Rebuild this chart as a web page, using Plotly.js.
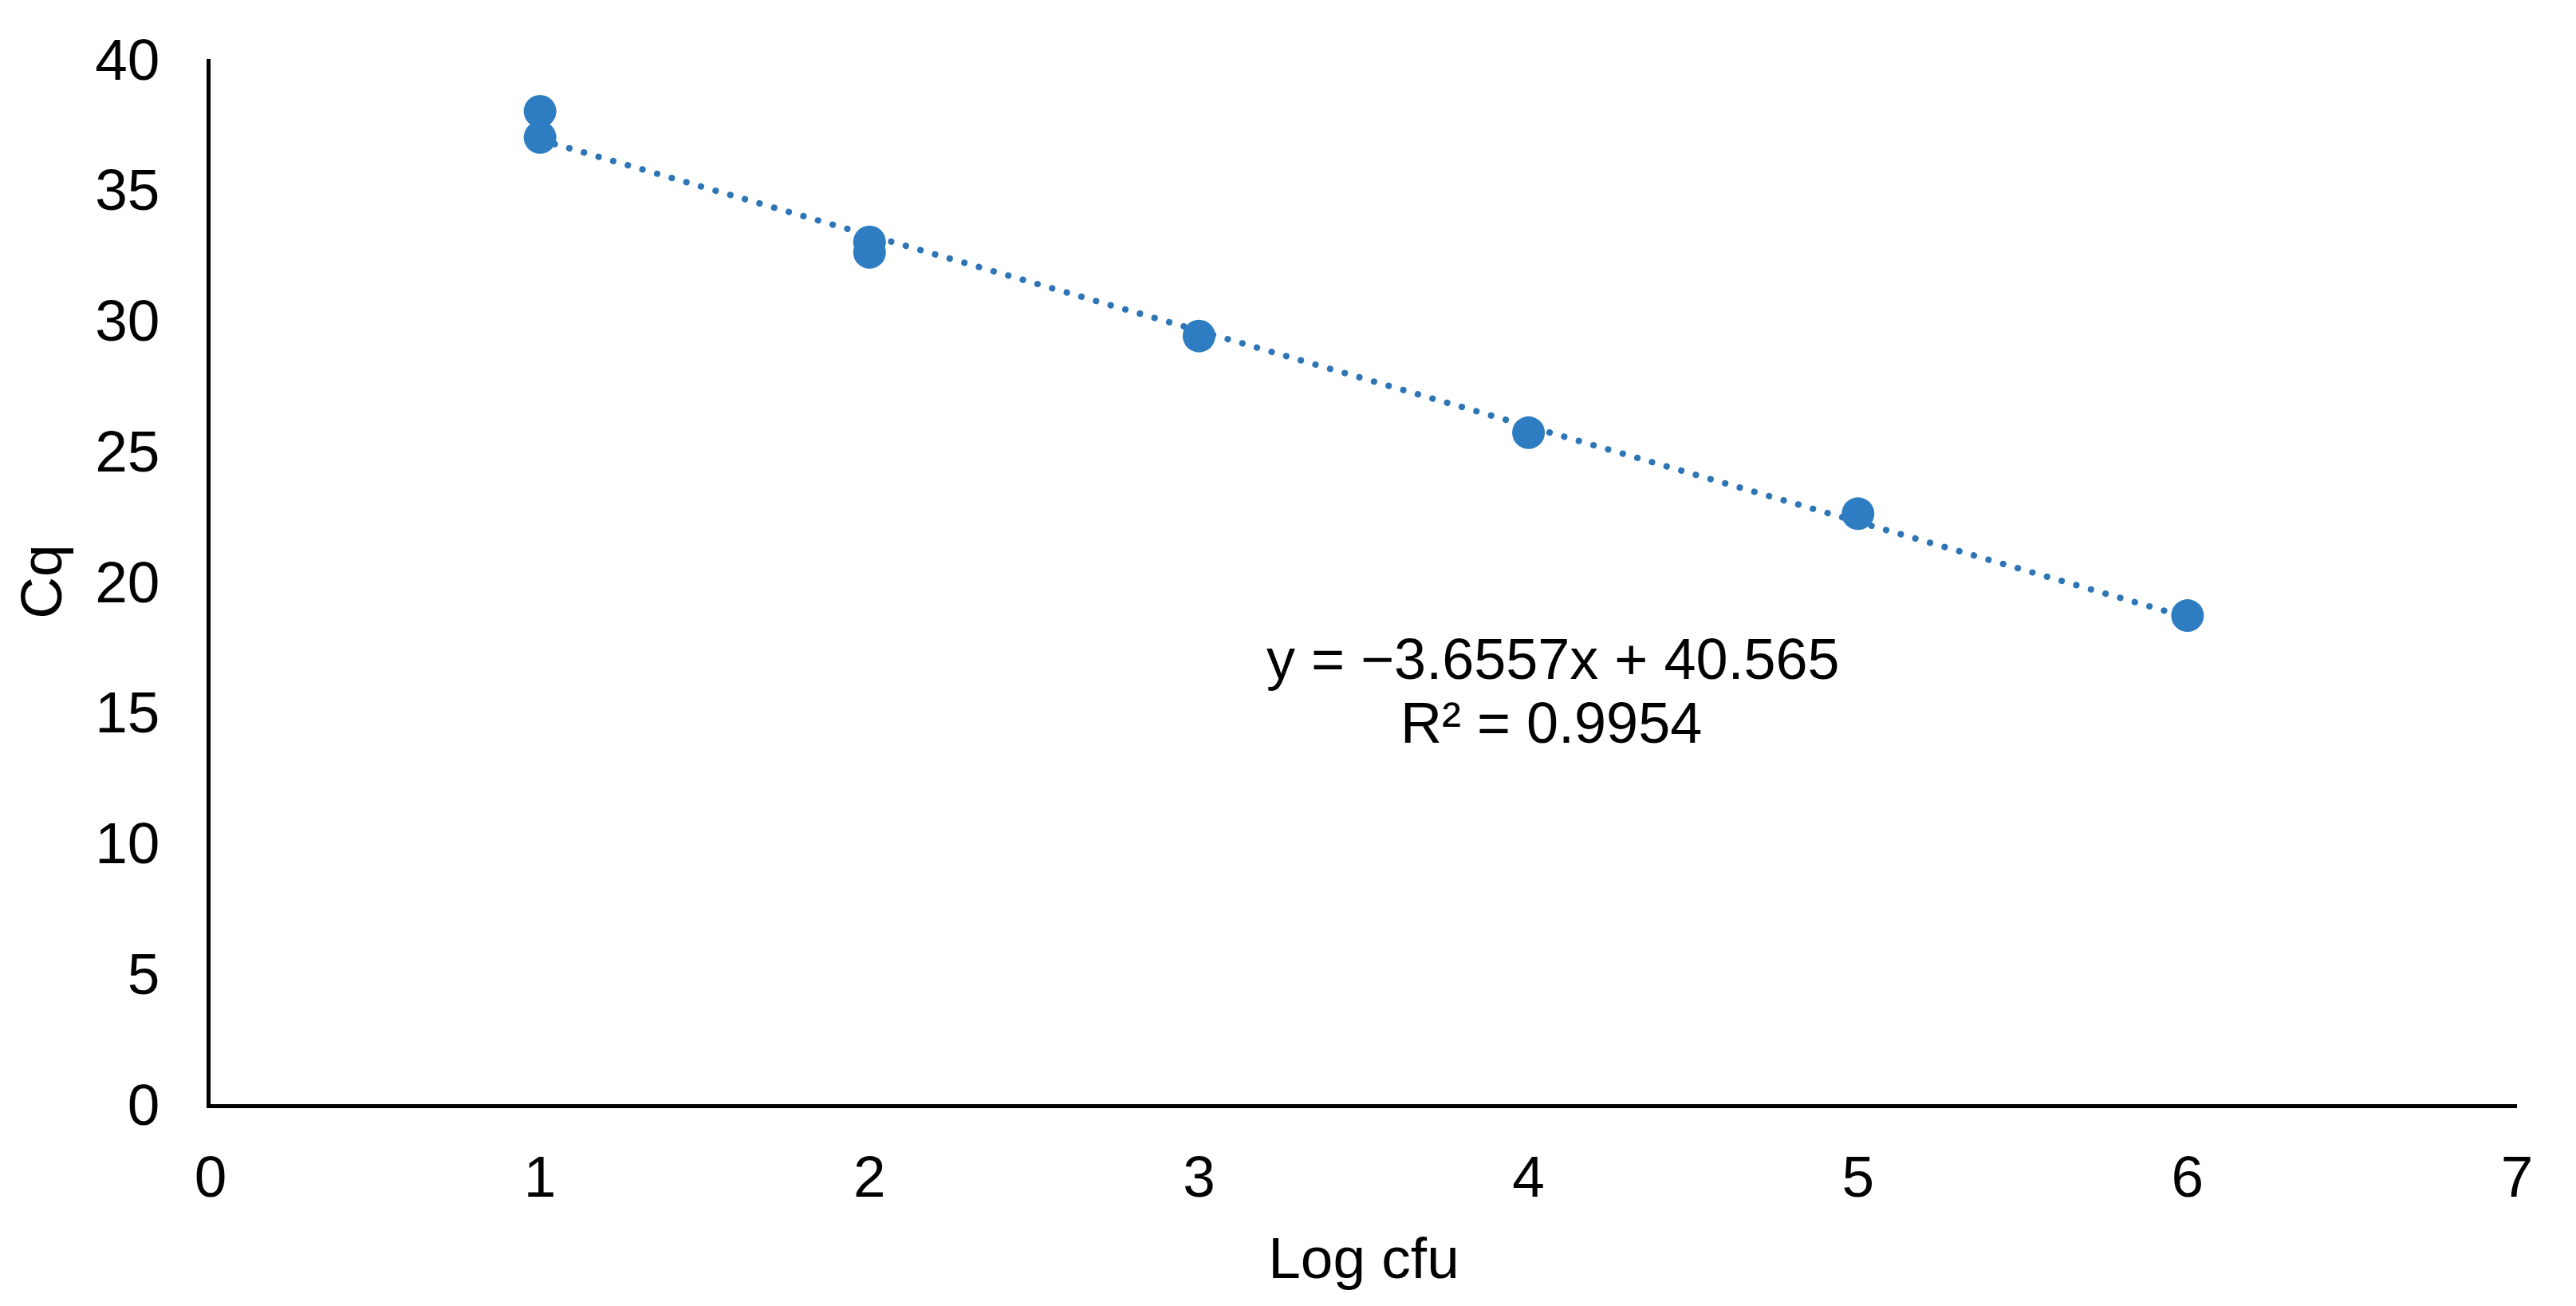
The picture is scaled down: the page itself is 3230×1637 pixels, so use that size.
<!DOCTYPE html>
<html>
<head>
<meta charset="utf-8">
<script src="https://cdn.plot.ly/plotly-3.0.1.min.js"></script>
<style>
html,body{margin:0;padding:0;background:#fff;}
#chart{width:3230px;height:1637px;}
path.js-line{stroke-linecap:round !important;}
</style>
</head>
<body>
<div id="chart"></div>
<script>
// Data
const logCfu = [1, 1, 2, 2, 3, 4, 5, 6];
const cq = [38.0, 37.0, 33.0, 32.6, 29.4, 25.7, 22.6, 18.7];
// Trendline as printed on the chart
const trendSlope = -3.6557;
const trendIntercept = 40.565;
const trendR2 = 0.9954;
const xTicks = [0, 1, 2, 3, 4, 5, 6, 7];
const yTicks = [0, 5, 10, 15, 20, 25, 30, 35, 40];

const xMin = Math.min(...logCfu), xMax = Math.max(...logCfu);
const trendX = [xMin, xMax];
const trendY = trendX.map(v => trendSlope * v + trendIntercept);

const blue = '#2E7DC2';
const font = 'Liberation Sans, Arial, sans-serif';

const traces = [
  {
    x: trendX, y: trendY, mode: 'lines', type: 'scatter',
    line: {color: '#2E75B6', width: 8, dash: '0.1px,19px'},
    hoverinfo: 'skip', showlegend: false
  },
  {
    x: logCfu, y: cq, mode: 'markers', type: 'scatter',
    marker: {color: blue, size: 41},
    showlegend: false
  }
];

const layout = {
  width: 3230, height: 1637,
  margin: {l: 264, r: 74, t: 74, b: 253},
  paper_bgcolor: '#fff', plot_bgcolor: '#fff',
  font: {family: font, color: '#000', size: 72},
  showlegend: false,
  xaxis: {
    range: [0, 7], tickvals: xTicks, ticktext: xTicks.map(String),
    showgrid: false, zeroline: false,
    showline: true, linecolor: '#000', linewidth: 5,
    ticks: 'outside', ticklen: 23, tickcolor: 'rgba(0,0,0,0)',
    tickfont: {family: font, size: 73, color: '#000'},
    title: {text: 'Log cfu', font: {family: font, size: 73, color: '#000'}, standoff: 39},
    automargin: false
  },
  yaxis: {
    range: [0, 40], tickvals: yTicks, ticktext: yTicks.map(String),
    showgrid: false, zeroline: false,
    showline: true, linecolor: '#000', linewidth: 5,
    ticks: 'outside', ticklen: 44, tickcolor: 'rgba(0,0,0,0)',
    tickfont: {family: font, size: 73, color: '#000'},
    title: {text: 'Cq', font: {family: font, size: 73, color: '#000'}, standoff: 19},
    automargin: false
  },
  annotations: [
    {
      x: 4.075, y: 17.04, xref: 'x', yref: 'y', showarrow: false,
      text: 'y = \u22123.6557x + 40.565',
      font: {family: font, size: 72, color: '#000'}, xanchor: 'center', yanchor: 'middle'
    },
    {
      x: 4.07, y: 14.6, xref: 'x', yref: 'y', showarrow: false,
      text: 'R\u00b2 = ' + trendR2.toFixed(4),
      font: {family: font, size: 72, color: '#000'}, xanchor: 'center', yanchor: 'middle'
    }
  ]
};

Plotly.newPlot('chart', traces, layout, {displayModeBar: false, staticPlot: true});
</script>
</body>
</html>
